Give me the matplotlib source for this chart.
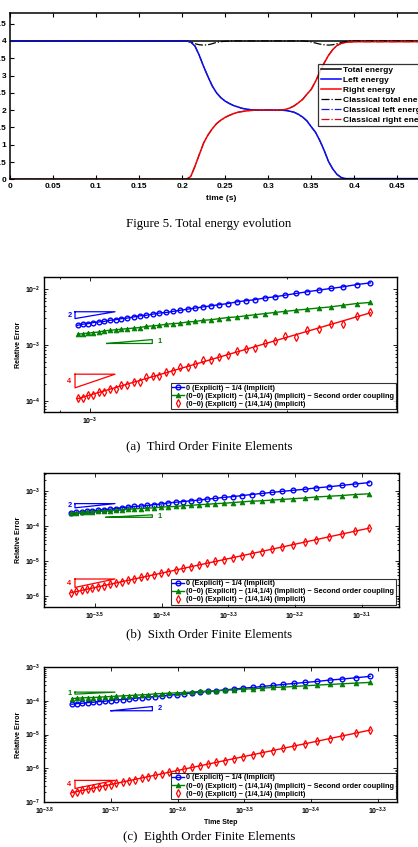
import numpy as np
import matplotlib
matplotlib.use('Agg')
import matplotlib.pyplot as plt
from matplotlib.ticker import FixedLocator, FixedFormatter, NullFormatter, LogLocator

plt.rcParams['font.family'] = ['Liberation Sans', 'DejaVu Sans']
plt.rcParams['font.weight'] = 'bold'
plt.rcParams['mathtext.fontset'] = 'custom'
plt.rcParams['mathtext.rm'] = 'Liberation Sans:bold'
plt.rcParams['mathtext.it'] = 'Liberation Sans:bold:italic'
plt.rcParams['mathtext.bf'] = 'Liberation Sans:bold'
plt.rcParams['mathtext.sf'] = 'Liberation Sans:bold'

# ---------------- Energy evolution data ----------------
time_s = [0.0, 0.200, 0.205, 0.210, 0.215, 0.220, 0.225, 0.230, 0.235, 0.240, 0.245,
          0.250, 0.255, 0.260, 0.265, 0.270, 0.275, 0.280, 0.285, 0.290, 0.295, 0.300,
          0.305, 0.310, 0.315, 0.320, 0.325, 0.330, 0.335, 0.340, 0.345, 0.350, 0.355,
          0.360, 0.365, 0.370, 0.375, 0.380, 0.385, 0.390, 0.395, 0.400, 0.500]
left_energy = [4.00, 4.00, 4.00, 3.97, 3.85, 3.58, 3.26, 2.97, 2.70, 2.50, 2.36,
               2.26, 2.19, 2.13, 2.09, 2.05, 2.03, 2.01, 2.00, 2.00, 2.00, 2.00,
               2.00, 2.00, 2.00, 1.99, 1.97, 1.94, 1.88, 1.80, 1.69, 1.52, 1.36,
               1.12, 0.84, 0.52, 0.30, 0.14, 0.05, 0.02, 0.02, 0.02, 0.02]
right_energy = [0.00, 0.00, 0.00, 0.08, 0.38, 0.72, 1.05, 1.28, 1.46, 1.61, 1.71,
                1.79, 1.85, 1.90, 1.94, 1.96, 1.98, 1.99, 2.00, 2.00, 2.00, 2.00,
                2.00, 2.00, 2.00, 2.02, 2.06, 2.12, 2.21, 2.31, 2.46, 2.60, 2.83,
                3.10, 3.36, 3.58, 3.75, 3.87, 3.93, 3.96, 3.97, 3.98, 3.98]
total_t = [0.0, 0.5]
total_energy = [4.0, 4.0]
classical_total_t = [0.0, 0.205, 0.21, 0.215, 0.22, 0.225, 0.23, 0.235, 0.24, 0.245, 0.25,
                     0.26, 0.34, 0.345, 0.35, 0.355, 0.36, 0.365, 0.37, 0.375, 0.38,
                     0.385, 0.39, 0.395, 0.5]
classical_total = [4.0, 4.0, 3.97, 3.92, 3.89, 3.88, 3.89, 3.92, 3.96, 3.98, 3.99,
                   4.0, 4.0, 3.99, 3.97, 3.94, 3.91, 3.89, 3.88, 3.89, 3.92,
                   3.96, 3.98, 4.0, 4.0]
classical_left = left_energy
classical_right = right_energy
energy_labels = ['Total energy', 'Left energy', 'Right energy',
                 'Classical total energy', 'Classical left energy', 'Classical right energy']
time_ticks = [0, 0.05, 0.1, 0.15, 0.2, 0.25, 0.3, 0.35, 0.4, 0.45, 0.5]
time_ticklabels = ['0', '0.05', '0.1', '0.15', '0.2', '0.25', '0.3', '0.35', '0.4', '0.45', '0.5']
energy_ticks = [0, 0.5, 1, 1.5, 2, 2.5, 3, 3.5, 4, 4.5]
energy_ticklabels = ['0', '0.5', '1', '1.5', '2', '2.5', '3', '3.5', '4', '4.5']

# ---------------- Convergence data ----------------
n_steps = [100, 105, 110, 115, 120, 125, 130, 135, 140, 145, 150, 155, 160, 165, 170,
           175, 180, 185, 190, 195, 200, 205, 210, 215, 220, 225, 230, 235, 240, 245,
           250, 255, 260, 265, 270, 275, 280]
final_time = {'a': 0.268, 'b': 0.0815, 'c': 0.0488}
series_labels = ['0 (Explicit) \u2212 1/4 (Implicit)',
                 '(0\u22120) (Explicit) \u2212 (1/4,1/4) (Implicit) \u2212 Second order coupling',
                 '(0\u22120) (Explicit) \u2212 (1/4,1/4) (Implicit)']
captions = ['(a)  Third Order Finite Elements', '(b)  Sixth Order Finite Elements',
            '(c)  Eighth Order Finite Elements']

# log10 of relative error
err_a_blue = [-1.89, -1.92, -1.96, -1.99, -2.02, -2.05, -2.08, -2.11, -2.14, -2.16, -2.19, -2.21,
              -2.23, -2.26, -2.28, -2.30, -2.32, -2.34, -2.36, -2.38, -2.40, -2.42, -2.43, -2.45,
              -2.47, -2.48, -2.50, -2.52, -2.53, -2.55, -2.56, -2.58, -2.59, -2.60, -2.62, -2.63, -2.65]
err_a_green = [-2.24, -2.26, -2.29, -2.32, -2.34, -2.36, -2.38, -2.40, -2.42, -2.44, -2.46, -2.48,
               -2.50, -2.51, -2.53, -2.55, -2.56, -2.58, -2.59, -2.61, -2.62, -2.63, -2.65, -2.66,
               -2.67, -2.69, -2.70, -2.71, -2.72, -2.73, -2.74, -2.75, -2.77, -2.78, -2.79, -2.80, -2.81]
err_a_red = [-2.42, -2.48, -2.62, -2.62, -2.71, -2.73, -2.86, -2.85, -2.93, -2.96, -3.06, -3.07,
             -3.11, -3.19, -3.21, -3.28, -3.28, -3.34, -3.40, -3.40, -3.47, -3.48, -3.55, -3.56,
             -3.58, -3.66, -3.66, -3.71, -3.71, -3.79, -3.79, -3.84, -3.84, -3.90, -3.90, -3.95, -3.96]
err_b_blue = [-2.76, -2.80, -2.84, -2.88, -2.91, -2.95, -2.98, -3.01, -3.04, -3.07, -3.10, -3.13,
              -3.16, -3.18, -3.21, -3.23, -3.26, -3.28, -3.30, -3.32, -3.34, -3.37, -3.39, -3.41,
              -3.43, -3.44, -3.46, -3.48, -3.50, -3.52, -3.53, -3.55, -3.57, -3.58, -3.60, -3.61, -3.63]
err_b_green = [-3.08, -3.10, -3.13, -3.15, -3.17, -3.20, -3.22, -3.24, -3.26, -3.28, -3.29, -3.31,
               -3.33, -3.35, -3.36, -3.38, -3.39, -3.41, -3.42, -3.44, -3.45, -3.46, -3.48, -3.49,
               -3.50, -3.51, -3.52, -3.54, -3.55, -3.56, -3.57, -3.58, -3.59, -3.60, -3.61, -3.62, -3.63]
err_b_red = [-4.06, -4.15, -4.23, -4.31, -4.39, -4.46, -4.53, -4.60, -4.66, -4.73, -4.79, -4.85,
             -4.90, -4.96, -5.01, -5.06, -5.11, -5.16, -5.21, -5.26, -5.30, -5.35, -5.39, -5.43,
             -5.47, -5.51, -5.55, -5.59, -5.63, -5.67, -5.70, -5.74, -5.77, -5.81, -5.84, -5.87, -5.91]
err_c_blue = [-3.27, -3.31, -3.35, -3.38, -3.42, -3.45, -3.48, -3.51, -3.54, -3.57, -3.60, -3.62,
              -3.65, -3.67, -3.70, -3.72, -3.74, -3.76, -3.79, -3.81, -3.83, -3.85, -3.87, -3.89,
              -3.90, -3.92, -3.94, -3.96, -3.97, -3.99, -4.01, -4.02, -4.04, -4.05, -4.07, -4.08, -4.10]
err_c_green = [-3.45, -3.47, -3.49, -3.51, -3.53, -3.55, -3.57, -3.59, -3.60, -3.62, -3.64, -3.65,
               -3.67, -3.68, -3.70, -3.71, -3.72, -3.74, -3.75, -3.76, -3.77, -3.78, -3.79, -3.81,
               -3.82, -3.83, -3.84, -3.85, -3.86, -3.87, -3.88, -3.89, -3.90, -3.90, -3.91, -3.92, -3.93]
err_c_red = [-4.87, -4.96, -5.04, -5.12, -5.20, -5.27, -5.34, -5.41, -5.48, -5.54, -5.60, -5.66,
             -5.72, -5.78, -5.83, -5.88, -5.93, -5.98, -6.03, -6.08, -6.12, -6.17, -6.21, -6.25,
             -6.29, -6.34, -6.37, -6.41, -6.45, -6.49, -6.53, -6.56, -6.60, -6.63, -6.66, -6.70, -6.73]

BLUE = (0.0, 0.0, 1.0)
GREEN = (0.0, 0.5, 0.0)
RED = (1.0, 0.0, 0.0)

W, H = 418, 847
fig = plt.figure(figsize=(W / 100, H / 100), dpi=100)


def rect(l, t, r, b):
    return [l / W, 1 - b / H, (r - l) / W, (b - t) / H]


# ---------------- Top: energy plot ----------------
ax0 = fig.add_axes(rect(10, 13.3, 440.3, 179.3))
ax0.plot(total_t, total_energy, color='black', lw=1.1, label=energy_labels[0])
ax0.plot(time_s, left_energy, color=BLUE, lw=1.1, label=energy_labels[1])
ax0.plot(time_s, right_energy, color=RED, lw=1.1, label=energy_labels[2])
ax0.plot(classical_total_t, classical_total, color='black', ls='-.', lw=0.9, label=energy_labels[3])
ax0.plot(time_s, classical_left, color=(0.1, 0.1, 0.75), ls='-.', lw=0.9, label=energy_labels[4])
ax0.plot(time_s, classical_right, color=(0.8, 0.05, 0.05), ls='-.', lw=0.9, label=energy_labels[5])
ax0.set_xlim(0, 0.5)
ax0.set_ylim(0, 4.8)
ax0.xaxis.set_major_locator(FixedLocator(time_ticks))
ax0.xaxis.set_major_formatter(FixedFormatter(time_ticklabels))
ax0.yaxis.set_major_locator(FixedLocator(energy_ticks))
ax0.yaxis.set_major_formatter(FixedFormatter(energy_ticklabels))
ax0.tick_params(direction='in', top=True, right=True, length=3, width=0.8, labelsize=6, pad=2.5)
for s in ax0.spines.values():
    s.set_linewidth(1.1)
ax0.set_xlabel('time (s)', fontsize=6, fontweight='bold')
ax0.xaxis.set_label_coords(0.49, -0.095)
leg0 = ax0.legend(loc='upper left', bbox_to_anchor=(318 / W, 1 - 64 / H),
                  bbox_transform=fig.transFigure, fontsize=6, frameon=True, fancybox=False,
                  edgecolor='black', borderpad=0.3, handlelength=2.4, handletextpad=0.3,
                  labelspacing=0.25, borderaxespad=0)
leg0.get_frame().set_linewidth(0.9)
fig.text(0.5, 1 - 224 / H, 'Figure 5. Total energy evolution', ha='center', va='center',
         family='Liberation Serif', fontweight='normal', fontsize=9.3)


# ---------------- Convergence plots ----------------
def slope_tri(ax, lx0, lx1, ly, slope, kind, color, label):
    x0, x1 = 10 ** lx0, 10 ** lx1
    if kind == 'top':
        yt = 10 ** ly
        yb = 10 ** (ly - slope * (lx1 - lx0))
        ax.plot([x0, x1, x0, x0], [yt, yt, yb, yt], color=color, lw=0.9)
        ax.annotate(label, xy=(x0, np.sqrt(yt * yb)), xytext=(-2.5, 0), textcoords='offset points',
                    ha='right', va='center', color=color, fontsize=5.3, fontweight='bold')
    else:
        yb = 10 ** ly
        yt = 10 ** (ly + slope * (lx1 - lx0))
        ax.plot([x0, x1, x1, x0], [yb, yb, yt, yb], color=color, lw=0.9)
        ax.annotate(label, xy=(x1, np.sqrt(yt * yb)), xytext=(3.5, 0), textcoords='offset points',
                    ha='left', va='center', color=color, fontsize=5.3, fontweight='bold')


def conv_plot(box, key, blue, green, red, xlim, ylim, xmaj, xmaj_lab, xmin, tris, caption, cap_y,
              legend_anchor, xlabel=None):
    ax = fig.add_axes(rect(*box))
    dt = final_time[key] / np.array(n_steps, dtype=float)
    eb = 10 ** np.array(blue)
    eg = 10 ** np.array(green)
    er = 10 ** np.array(red)
    ax.loglog(dt, eb, color=BLUE, lw=1.0, marker='o', ms=3.4, mfc='none', mew=1.0,
              label=series_labels[0])
    ax.loglog(dt, eg, color=GREEN, lw=1.0, marker='^', ms=3.4, mfc=GREEN, mew=0.6,
              label=series_labels[1])
    p = np.polyfit(np.log10(dt), np.array(red), 1)
    xx = np.array([dt.min(), dt.max()])
    ax.loglog(xx, 10 ** np.polyval(p, np.log10(xx)), color=RED, lw=1.0)
    ax.loglog(dt, er, color=RED, ls='none', marker='d', ms=3.6, mfc='none', mew=0.9,
              label=series_labels[2])
    ax.set_xlim(*xlim)
    ax.set_ylim(*ylim)
    ax.xaxis.set_major_locator(FixedLocator(xmaj))
    ax.xaxis.set_major_formatter(FixedFormatter(xmaj_lab))
    ax.xaxis.set_minor_locator(FixedLocator(xmin))
    ax.xaxis.set_minor_formatter(NullFormatter())
    ax.yaxis.set_major_locator(LogLocator(base=10, numticks=20))
    ax.yaxis.set_minor_locator(LogLocator(base=10, subs=np.arange(2, 10), numticks=20))
    ax.yaxis.set_minor_formatter(NullFormatter())
    ax.tick_params(which='both', direction='in', top=True, right=True, width=0.6, labelsize=5, pad=3)
    ax.tick_params(which='major', length=3)
    ax.tick_params(which='minor', length=1.5)
    for s in ax.spines.values():
        s.set_linewidth(1.0)
    ax.set_ylabel('Relative Error', fontsize=5, fontweight='bold')
    ax.yaxis.set_label_coords(-0.062, 0.5)
    if xlabel:
        ax.set_xlabel(xlabel, fontsize=5, fontweight='bold')
        ax.xaxis.set_label_coords(0.5, -0.125)
    for t in tris:
        slope_tri(ax, *t)
    leg = ax.legend(loc='lower right', bbox_to_anchor=legend_anchor, fontsize=5.3, frameon=True,
                    fancybox=False, edgecolor='black', borderpad=0.2, handlelength=1.6,
                    handletextpad=0.3, labelspacing=0.12, borderaxespad=0)
    leg.get_frame().set_linewidth(0.8)
    fig.text(0.5, 1 - cap_y / H, caption, ha='center', va='center', family='Liberation Serif',
             fontweight='normal', fontsize=9.3)
    return ax


conv_plot((44.3, 277.3, 397, 411.7), 'a', err_a_blue, err_a_green, err_a_red,
          (10 ** -3.0698, 10 ** -2.5313), (10 ** -4.197, 10 ** -1.79),
          [1e-3], ['$10^{-3}$'], [9e-4, 2e-3],
          [(-3.0229, -2.9618, -2.407, 2, 'top', BLUE, '2'),
           (-2.9745, -2.9049, -2.975, 1, 'bottom', GREEN, '1'),
           (-3.0229, -2.9618, -3.525, 4, 'top', RED, '4')],
          captions[0], 446, (0.996, 0.018))

conv_plot((44.3, 473.3, 399.3, 606.7), 'b', err_b_blue, err_b_green, err_b_red,
          (10 ** -3.576, 10 ** -3.0436), (10 ** -6.305, 10 ** -2.494),
          [10 ** -3.5, 10 ** -3.4, 10 ** -3.3, 10 ** -3.2, 10 ** -3.1],
          ['$10^{-3.5}$', '$10^{-3.4}$', '$10^{-3.3}$', '$10^{-3.2}$', '$10^{-3.1}$'], [],
          [(-3.530, -3.470, -3.36, 2, 'top', BLUE, '2'),
           (-3.4835, -3.414, -3.751, 1, 'bottom', GREEN, '1'),
           (-3.530, -3.470, -5.514, 4, 'top', RED, '4')],
          captions[1], 634, (0.99, 0.013))

conv_plot((44.3, 667.3, 397, 801.7), 'c', err_c_blue, err_c_green, err_c_red,
          (10 ** -3.8, 10 ** -3.2712), (1e-7, 1e-3),
          [10 ** -3.8, 10 ** -3.7, 10 ** -3.6, 10 ** -3.5, 10 ** -3.4, 10 ** -3.3],
          ['$10^{-3.8}$', '$10^{-3.7}$', '$10^{-3.6}$', '$10^{-3.5}$', '$10^{-3.4}$', '$10^{-3.3}$'], [],
          [(-3.754, -3.694, -3.739, 1, 'top', GREEN, '1'),
           (-3.700, -3.638, -4.293, 2, 'bottom', BLUE, '2'),
           (-3.754, -3.694, -6.366, 4, 'top', RED, '4')],
          captions[2], 837, (0.996, 0.02), xlabel='Time Step')

fig.savefig('out.png', dpi=100)
